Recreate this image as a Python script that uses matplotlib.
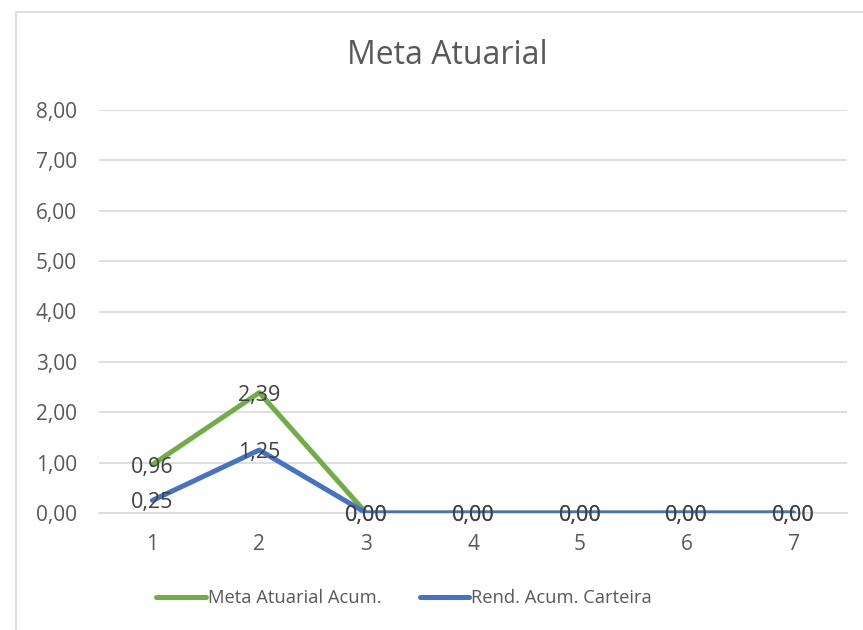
import matplotlib
matplotlib.use('Agg')
from matplotlib import pyplot
from matplotlib.patches import Rectangle

# Chart data
categories = [1, 2, 3, 4, 5, 6, 7]
metaAtuarial = [0.96, 2.39, 0.00, 0.00, 0.00, 0.00, 0.00]
rendCarteira = [0.25, 1.25, 0.00, 0.00, 0.00, 0.00, 0.00]
yTicks = [0, 1, 2, 3, 4, 5, 6, 7, 8]

pyplot.rcParams['font.family'] = ['Open Sans', 'DejaVu Sans']

fig = pyplot.figure(figsize=[8.63, 6.30], dpi=100)
ax = fig.add_axes([99 / 863, 1 - 513 / 630, 748 / 863, 403 / 630])

# chart border
fig.patches.append(Rectangle((16 / 863, -0.01), 1.0, 1 - 12 / 630 + 0.01,
                             transform=fig.transFigure, fill=False,
                             edgecolor='#d9d9d9', linewidth=1.2))

fig.text(447 / 863, 1 - 55 / 630, 'Meta Atuarial', ha='center', va='center',
         fontsize=23, color='#595959')

ax.plot(categories, metaAtuarial, color='#70AD47', linewidth=3.6,
        solid_capstyle='round', label='Meta Atuarial Acum.', zorder=3)
ax.plot(categories, rendCarteira, color='#4472C4', linewidth=3.6,
        solid_capstyle='round', label='Rend. Acum. Carteira', zorder=4)

for xs, ys in [(categories, metaAtuarial), (categories, rendCarteira)]:
    for x, y in zip(xs, ys):
        ax.text(x, y - 0.05, f'{y:.2f}'.replace('.', ','), ha='center', va='center',
                fontsize=15.5, color='#404040', zorder=5)

ax.set_xlim(0.5, 7.5)
ax.set_ylim(0, 8)
ax.set_xticks(categories)
ax.set_xticklabels([str(c) for c in categories])
ax.set_yticks(yTicks)
ax.set_yticklabels([f'{t:.2f}'.replace('.', ',') for t in yTicks])
ax.tick_params(length=0, labelsize=15, labelcolor='#595959')
ax.tick_params(axis='x', pad=15)
ax.tick_params(axis='y', pad=16)

ax.set_axisbelow(True)
ax.grid(axis='y', color='#d9d9d9', linewidth=1.2)
for side in ['top', 'right', 'left']:
    ax.spines[side].set_visible(False)
ax.spines['bottom'].set_color('#d9d9d9')
ax.spines['bottom'].set_linewidth(1.2)

fig.legend(loc='center', bbox_to_anchor=(404 / 863, 1 - 598 / 630), ncol=2,
           frameon=False, fontsize=13.2, handlelength=2.7, handletextpad=0.1,
           columnspacing=2.1, labelcolor='#595959')

fig.savefig('out.png')
